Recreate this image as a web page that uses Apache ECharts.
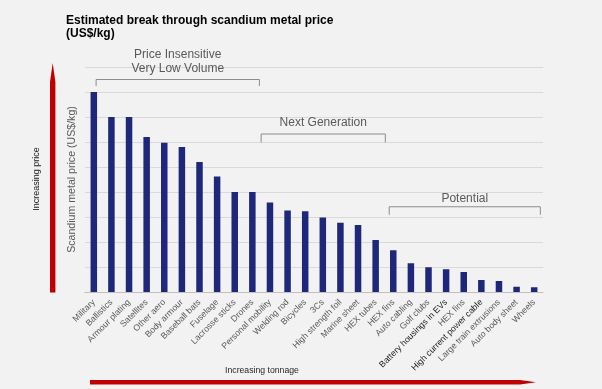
<!DOCTYPE html>
<html>
<head>
<meta charset="utf-8">
<script src="https://cdn.jsdelivr.net/npm/echarts@6/dist/echarts.min.js"></script>
<style>
  html, body { margin: 0; padding: 0; background: #f2f2f2; }
  #chart { width: 602px; height: 389px; }
</style>
</head>
<body>
<div id="chart"></div>
<script>
// ---- data ----
const categories = [
  'Military', 'Ballistics', 'Armour plating', 'Satellites', 'Other aero',
  'Body armour', 'Baseball bats', 'Fuselage', 'Lacrosse sticks', 'Drones',
  'Personal mobility', 'Welding rod', 'Bicycles', '3Cs', 'High strength foil',
  'Marine sheet', 'HEX tubes', 'HEX fins', 'Auto cabling', 'Golf clubs',
  'Battery housings in EVs', 'HEX fins', 'High current power cable',
  'Large train extrusions', 'Auto body sheet', 'Wheels'
];
const priceValues = [
  8.0, 7.0, 7.0, 6.2, 5.97,
  5.8, 5.2, 4.62, 4.0, 4.0,
  3.58, 3.26, 3.23, 2.98, 2.77,
  2.68, 2.08, 1.67, 1.15, 0.99,
  0.91, 0.8, 0.48, 0.44, 0.21, 0.19
];
const darkLabels = ['Battery housings in EVs', 'High current power cable'];
const groupNames = ['Price Insensitive\nVery Low Volume', 'Next Generation', 'Potential'];
const groupSpans = [[0.13, 9.4], [9.5, 16.55], [16.77, 25.35]];

const titleText = 'Estimated break through scandium metal price\n(US$/kg)';
const yAxisName = 'Scandium metal price (US$/kg)';
const yArrowText = 'Increasing price';
const xArrowText = 'Increasing tonnage';

// ---- chart ----
const chart = echarts.init(document.getElementById('chart'), null, { renderer: 'canvas' });
const font = '"Liberation Sans", Arial, sans-serif';

chart.setOption({
  backgroundColor: '#f2f2f2',
  animation: false,
  title: {
    text: titleText,
    left: 66, top: 14, padding: 0,
    textStyle: { fontFamily: font, fontSize: 12, fontWeight: 'bold', color: '#000', lineHeight: 13 }
  },
  grid: { left: 85, right: 59, top: 67, bottom: 97 },
  xAxis: {
    type: 'category',
    data: categories.map(c => darkLabels.includes(c)
      ? { value: c, textStyle: { color: '#1a1a1a' } } : c),
    axisLine: { lineStyle: { color: '#bfbfbf', width: 1 } },
    axisTick: { show: false },
    axisLabel: { rotate: 45, interval: 0, fontSize: 8.7, fontFamily: font, color: '#595959', margin: 9 }
  },
  yAxis: {
    type: 'value', min: 0, max: 9, interval: 1,
    name: yAxisName, nameLocation: 'middle', nameGap: 7,
    nameTextStyle: { fontFamily: font, fontSize: 10.6, color: '#595959' },
    axisLabel: { show: false },
    axisLine: { show: false }, axisTick: { show: false },
    splitLine: { lineStyle: { color: '#d9d9d9', width: 1 } }
  },
  series: [{
    type: 'bar', data: priceValues, barWidth: 6.5,
    itemStyle: { color: '#1e2779' }
  }]
});

function px(i) {
  const p0 = chart.convertToPixel({ xAxisIndex: 0 }, 0);
  const p1 = chart.convertToPixel({ xAxisIndex: 0 }, 1);
  return p0 + i * (p1 - p0);
}
function py(v) { return chart.convertToPixel({ yAxisIndex: 0 }, v); }

const annoLevels = [
  { text: 9.22, top: 8.5, bot: 8.24 },
  { text: 6.79, top: 6.32, bot: 5.98 },
  { text: 3.75, top: 3.41, bot: 3.09 }
];
const graphics = [];
groupNames.forEach((name, k) => {
  const [a, b] = groupSpans[k];
  const x1 = px(a), x2 = px(b);
  const lv = annoLevels[k];
  graphics.push({
    type: 'polyline', silent: true,
    shape: { points: [[x1, py(lv.bot)], [x1, py(lv.top)], [x2, py(lv.top)], [x2, py(lv.bot)]] },
    style: { stroke: '#8c8c8c', lineWidth: 1, fill: null }
  });
  graphics.push({
    type: 'text', silent: true,
    x: (x1 + x2) / 2, y: py(lv.text),
    style: { text: name, fontFamily: font, fontSize: 12, fill: '#595959', align: 'center', verticalAlign: 'middle', lineHeight: 13.5 }
  });
});
// red arrows
graphics.push({
  type: 'polygon', silent: true,
  shape: { points: [[50, 292.5], [50, 82], [52.7, 63], [55.4, 82], [55.4, 292.5]] },
  style: { fill: '#c00000' }
});
graphics.push({
  type: 'polygon', silent: true,
  shape: { points: [[90, 380], [520, 380], [536, 382.2], [520, 384.4], [90, 384.4]] },
  style: { fill: '#c00000' }
});
graphics.push({
  type: 'text', silent: true, x: 37, y: 179, rotation: Math.PI / 2,
  style: { text: yArrowText, fontFamily: font, fontSize: 9, fill: '#1a1a1a', align: 'center', verticalAlign: 'middle' }
});
graphics.push({
  type: 'text', silent: true, x: 262, y: 371,
  style: { text: xArrowText, fontFamily: font, fontSize: 8.7, fill: '#262626', align: 'center', verticalAlign: 'middle' }
});
chart.setOption({ graphic: graphics });
</script>
</body>
</html>
